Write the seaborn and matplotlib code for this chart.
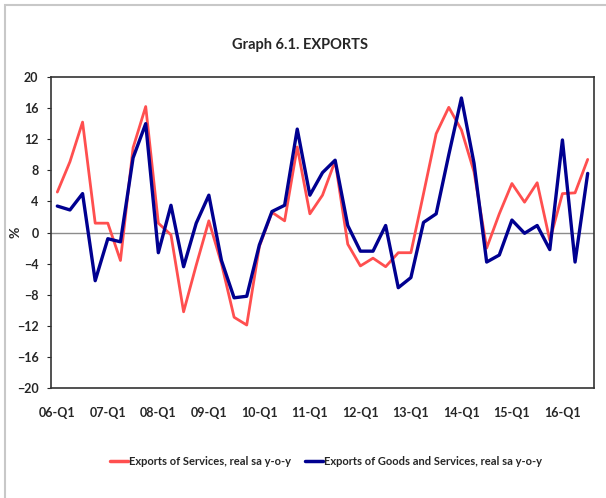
import numpy as np
import pandas as pd
import seaborn as sns
import matplotlib.pyplot as plt
from matplotlib.patches import Rectangle

# Quarterly periods 06-Q1 .. 16-Q3
years = list(range(6, 17))
quarters = [f"{y:02d}-Q{q}" for y in years for q in range(1, 5)][:43]

services = [5.2, 9.1, 14.2, 1.2, 1.2, -3.6, 10.9, 16.2, 1.2, -0.3,
            -10.2, -4.2, 1.5, -4.0, -10.9, -11.9, -1.8, 2.6, 1.5, 11.0,
            2.4, 4.8, 9.2, -1.5, -4.3, -3.3, -4.4, -2.6, -2.6, 5.0,
            12.7, 16.1, 13.2, 7.8, -2.0, 2.4, 6.3, 3.9, 6.4, -1.0,
            5.0, 5.1, 9.4]
goods_services = [3.4, 2.9, 5.0, -6.2, -0.8, -1.2, 9.6, 14.0, -2.6, 3.5,
                  -4.4, 1.2, 4.8, -3.6, -8.4, -8.2, -1.6, 2.7, 3.5, 13.3,
                  4.8, 7.7, 9.3, 0.9, -2.4, -2.4, 0.9, -7.1, -5.8, 1.3,
                  2.4, 10.0, 17.3, 8.9, -3.8, -2.9, 1.6, -0.1, 0.9, -2.2,
                  11.9, -3.8, 7.6]

names = ["Exports of Services, real sa y-o-y",
         "Exports of Goods and Services, real sa y-o-y"]

df = pd.DataFrame({"idx": np.arange(len(quarters)),
                   names[0]: services,
                   names[1]: goods_services})
long = df.melt(id_vars="idx", var_name="series", value_name="value")

sns.set_style("white")
plt.rcParams["font.family"] = ["Lato", "DejaVu Sans"]
plt.rcParams["font.weight"] = "bold"

fig = plt.figure(figsize=(6.06, 4.98), dpi=100)
ax = fig.add_axes([51 / 606, 1 - 388 / 498, 543 / 606, 311 / 498])

# outer chart border (left and top visible)
fig.patches.append(Rectangle((5 / 606, -0.1), 1.2, 1 - 5 / 498 + 0.1,
                             transform=fig.transFigure, fill=False,
                             edgecolor="#c8c8c8", linewidth=1.5))

ax.axhline(0, color="#8c8c8c", linewidth=1, zorder=1)
sns.lineplot(data=long, x="idx", y="value", hue="series",
             palette=["#ff4f4f", "#000090"], ax=ax, legend=False)
ax.lines[1].set_linewidth(2.0)
ax.lines[2].set_linewidth(2.4)

ax.set_xlim(-0.5, len(quarters) - 0.5)
ax.set_ylim(-20, 20)
ax.set_yticks(range(-20, 21, 4))
ax.set_xticks(range(0, len(quarters), 4))
ax.set_xticklabels([quarters[i] for i in range(0, len(quarters), 4)])
ax.tick_params(axis="y", length=3, width=0.8, pad=6, labelsize=9, left=True)
ax.tick_params(axis="x", length=0, pad=14, labelsize=9)
for s in ax.spines.values():
    s.set_color("#333333")
    s.set_linewidth(1.2)

ax.set_xlabel("")
ax.set_ylabel("")
fig.text(16 / 606, 1 - 232 / 498, "%", rotation=90, ha="center",
         va="center", fontsize=10, fontweight="bold")
fig.text(300 / 606, 1 - 45 / 498, "Graph 6.1. EXPORTS", ha="center",
         va="center", fontsize=10.5, fontweight="bold")

handles = [plt.Line2D([], [], color="#ff4f4f", linewidth=2.5),
           plt.Line2D([], [], color="#000090", linewidth=2.5)]
fig.legend(handles, names, loc="center", bbox_to_anchor=(326 / 606, 1 - 461 / 498),
           ncol=2, frameon=False, fontsize=8, handlelength=1.6,
           handletextpad=0.1, columnspacing=1.3)

fig.savefig("out.png", dpi=100)
